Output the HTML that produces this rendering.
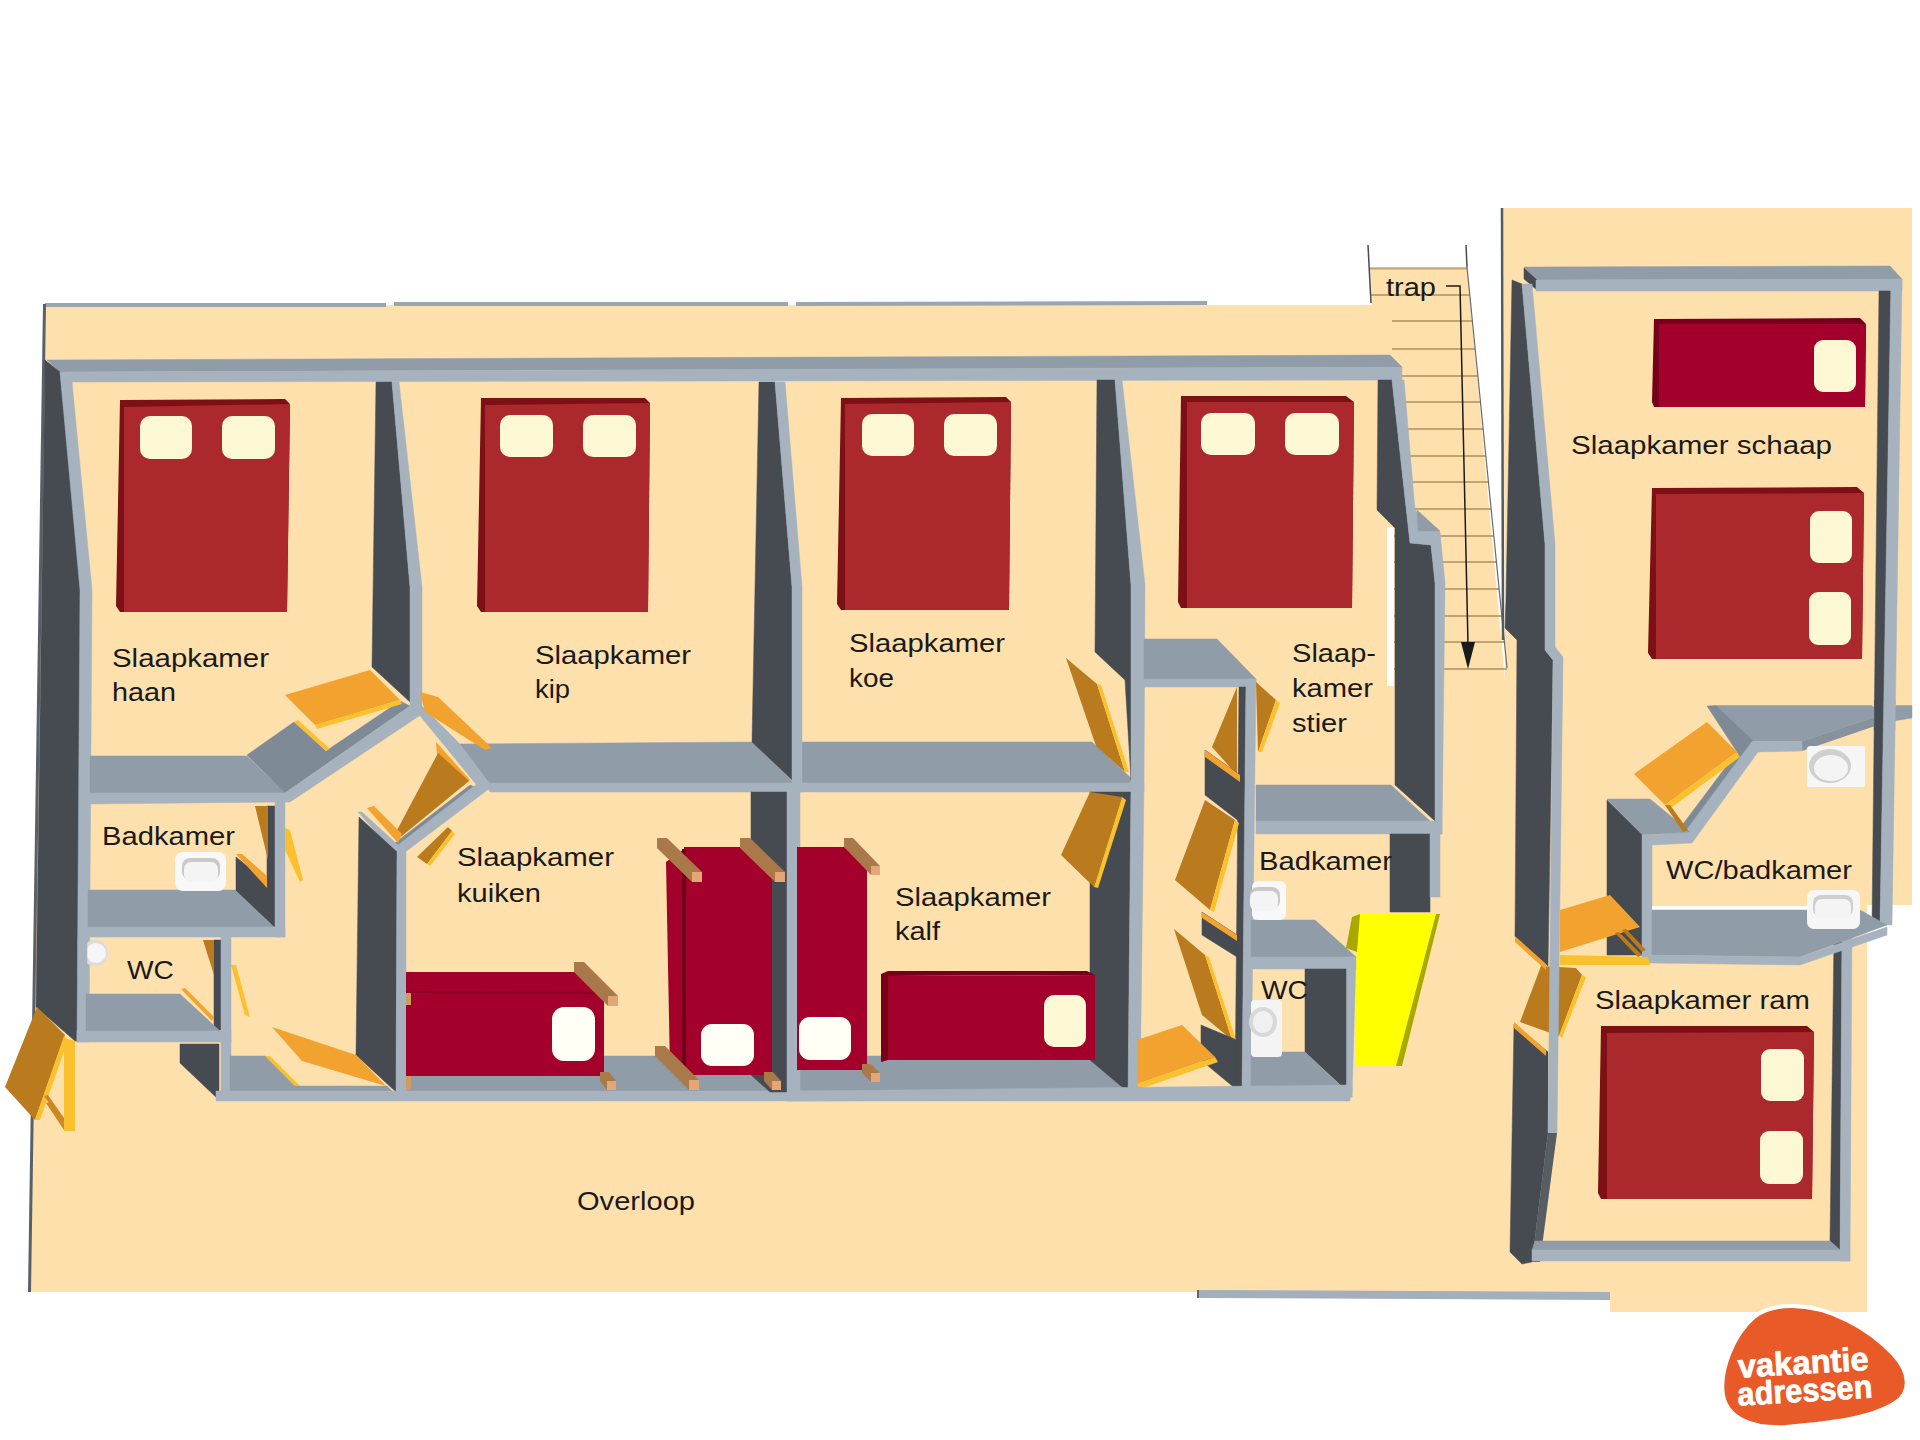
<!DOCTYPE html>
<html><head><meta charset="utf-8">
<style>
html,body{margin:0;padding:0;background:#fff;}
body{width:1920px;height:1440px;overflow:hidden;position:relative;}
svg{position:absolute;left:0;top:0;}
text{font-family:"Liberation Sans",sans-serif;fill:#1a1a1a;}
.f{fill:#FEE0AD}
.d{fill:#464B52;stroke:#464B52;stroke-width:.5}
.m{fill:#909CA8;stroke:#909CA8;stroke-width:.5}
.m2{fill:#7E8A96;stroke:#7E8A96;stroke-width:.5}
.l{fill:#A6B3BF;stroke:#A6B3BF;stroke-width:.5}
.o{fill:#F2A22E}
.o2{fill:#BA7A1E}
.o3{fill:#FBC02E}
.r{fill:#AB282C}
.r2{fill:#7C1015}
.b{fill:#A3002C}
.b2{fill:#76001C}
.p{fill:#FBF8D3}
.w{fill:#FFFFF6}
.wd{fill:#CF9A64}
</style></head>
<body>
<svg width="1920" height="1440" viewBox="0 0 1920 1440">
<rect width="1920" height="1440" fill="#fff"/>
<!-- FLOOR -->
<polygon class="f" points="45,305 1372,305 1370,267 1467,267 1505,680 1503,208 1912,208 1912,905 1867,905 1867,1312 1610,1312 1610,1300 1197,1297 1197,1292 30,1292"/>
<!-- STAIRS -->
<line x1="1370" y1="295" x2="1469.8" y2="295" stroke="#C2A373" stroke-width="2"/>
<line x1="1392" y1="321" x2="1472.4" y2="321" stroke="#C2A373" stroke-width="2"/>
<line x1="1392" y1="349" x2="1475.2" y2="349" stroke="#C2A373" stroke-width="2"/>
<line x1="1392" y1="376" x2="1477.9" y2="376" stroke="#C2A373" stroke-width="2"/>
<line x1="1392" y1="402" x2="1480.5" y2="402" stroke="#C2A373" stroke-width="2"/>
<line x1="1392" y1="429" x2="1483.2" y2="429" stroke="#C2A373" stroke-width="2"/>
<line x1="1392" y1="456" x2="1485.9" y2="456" stroke="#C2A373" stroke-width="2"/>
<line x1="1392" y1="482" x2="1488.4" y2="482" stroke="#C2A373" stroke-width="2"/>
<line x1="1392" y1="509" x2="1491.1" y2="509" stroke="#C2A373" stroke-width="2"/>
<line x1="1392" y1="536" x2="1493.8" y2="536" stroke="#C2A373" stroke-width="2"/>
<line x1="1392" y1="562" x2="1496.4" y2="562" stroke="#C2A373" stroke-width="2"/>
<line x1="1392" y1="589" x2="1499.1" y2="589" stroke="#C2A373" stroke-width="2"/>
<line x1="1392" y1="616" x2="1501.8" y2="616" stroke="#C2A373" stroke-width="2"/>
<line x1="1392" y1="642" x2="1504.4" y2="642" stroke="#C2A373" stroke-width="2"/>
<line x1="1392" y1="669" x2="1507.1" y2="669" stroke="#C2A373" stroke-width="2"/>

<line x1="1370" y1="268.5" x2="1467" y2="268.5" stroke="#C2A373" stroke-width="2"/>
<!-- outer thin lines -->
<polygon fill="#9AA5B0" points="45,303 386,303 386,307 45,307"/>
<polygon fill="#9AA5B0" points="394,302 788,302 788,306 394,306"/>
<polygon fill="#9AA5B0" points="796,302 1207,301 1207,305 796,306"/>
<polygon fill="#5A6068" points="43,304 46,304 31,1292 28,1292"/>
<!-- TOP WALL -->
<g id="topwall">
<polygon class="m" points="47,360 1390,355 1402,367 60,372"/>
<polygon class="l" points="60,372 1402,367 1402,380 72,382"/>
</g>
<!-- LEFT OUTER WALL -->
<polygon class="d" points="45,360 60,372 82,590 80,1041 75,1041 36,1007"/>
<polygon class="l" points="60,372 72,382 92,590 89,1042 77,1042 80,590"/>

<!-- HAAN/KIP WALL 1 upper -->
<polygon class="d" points="376,382 392,382 410,587 410,702 372,667"/>
<polygon class="l" points="392,382 399,382 422,587 422,707 410,707 410,587"/>
<!-- haan bottom wall -->
<polygon class="m" points="90,756 247,756 285,793 90,793"/>
<polygon class="m2" points="247,755 294,722 326,751 400,701 410,706 285,793"/>
<polygon class="o3" points="294,722 298,720 330,749 326,751"/>
<polygon class="l" points="88,793 285,793 410,706 422,707 425,712 290,802 88,804"/>
<!-- haan door -->
<polygon class="o" points="285,695 370,670 400,700 315,725"/>
<polygon class="o3" points="315,725 400,700 402,704 317,729"/>
<!-- kip bottom wall horizontal -->
<polygon class="m" points="457,744 752,742 792,781 792,784 487,784"/>
<polygon class="m" points="800,742 1092,742 1131,778 1131,784 800,784"/>
<polygon class="l" points="485,783 1144,783 1144,792 490,792"/>
<polygon class="l" points="412,706 422,706 460,744 490,784 480,790 475,783"/>
<!-- kuiken top diag wall -->
<polygon class="m2" points="362,815 395,843 470,785 482,790 400,855"/>
<polygon class="l" points="358,812 362,812 398,845 478,783 490,788 400,856 397,856"/>
<!-- kuiken door -->
<polygon class="o" points="436,742 470,780 463,786 437,755"/>
<polygon class="o2" points="438,753 469,781 397,840 395,834"/>
<polygon class="o" points="367,808 374,806 402,834 398,843"/>
<polygon class="o2" points="448,827 452,831 427,864 417,857"/>
<polygon class="o3" points="452,831 455,834 430,866 427,864"/>
<!-- kip door sliver -->
<polygon class="o" points="420,692 438,697 492,748 485,750 425,712"/>
<polygon class="m" points="406,1056 1130,1056 1130,1091 406,1091"/>
<!-- kuiken left dark wall -->
<polygon class="d" points="359,817 397,852 396,1092 356,1055"/>
<polygon class="l" points="397,852 406,852 406,1100 396,1100"/>
<!-- badkamer right wall -->
<polygon class="d" points="236,857 267,882 267,806 275,806 275,928 236,891"/>
<polygon class="l" points="275,800 285,800 285,937 275,937"/>
<polygon class="o2" points="255,806 268,806 268,860"/>
<polygon class="o3" points="285,828 290,830 303,880 300,882 285,850"/>
<polygon class="o" points="236,854 242,854 267,876 267,888"/>
<!-- badkamer bottom wall -->
<polygon class="m" points="88,890 235,890 274,927 88,927"/>
<polygon class="l" points="86,927 285,927 285,937 86,937"/>
<rect fill="#F8F8F8" x="175" y="852" width="51" height="39" rx="8"/><rect fill="#C9C9C9" x="182" y="858" width="38" height="22" rx="8"/><rect fill="#F4F4F4" x="184" y="862" width="34" height="20" rx="7"/>
<!-- WC -->
<polygon class="d" points="214,940 221,940 221,1030 214,1030"/>
<polygon class="l" points="221,937 231,937 231,1100 221,1100"/>
<polygon class="m" points="86,994 180,994 220,1031 86,1031"/>
<polygon class="l" points="77,1031 231,1031 231,1042 77,1042"/>
<polygon class="o" points="181,989 185,988 214,1017 212,1021"/>
<polygon class="o2" points="203,940 214,940 214,975"/>
<polygon class="o3" points="231,965 236,965 250,1017 245,1015"/>
<circle cx="95" cy="953" r="13" fill="#DCDCDC"/><circle cx="96" cy="953" r="10" fill="#F6F6F6"/><rect class="l" x="78" y="937" width="9" height="40"/>
<!-- lower dark block + bottom -->
<polygon class="d" points="180,1044 219,1044 219,1100 180,1063"/>
<polygon class="m" points="230,1056 265,1056 295,1086 387,1086 392,1091 230,1091"/>
<polygon class="l" points="216,1091 1350,1091 1350,1101 216,1101"/>
<polygon class="o" points="272,1027 356,1055 386,1086 302,1061"/>
<polygon class="o3" points="265,1056 270,1056 300,1086 295,1086"/>
<!-- exterior door -->
<polygon class="o2" points="5,1087 37,1007 65,1035 35,1120"/>
<polygon class="o3" points="35,1120 40,1120 68,1040 64,1036"/>
<polygon class="o3" points="64,1038 75,1041 75,1131 64,1131"/>
<polygon fill="#C98A22" points="44,1096 48,1095 64,1118 64,1124"/>
<polygon fill="#C98A22" points="46,1103 50,1102 64,1124 64,1130"/>

<!-- WALL 2 kip/koe -->
<polygon class="d" points="759,382 775,382 792,587 792,780 752,742"/>
<polygon class="l" points="775,382 785,382 802,587 802,792 792,792 792,587"/>
<!-- kuiken/kalf wall -->
<polygon class="d" points="751,792 787,792 787,1092 770,1092 751,1075"/>
<polygon class="l" points="787,792 800,792 800,1101 787,1101"/>
<!-- WALL 3 koe/stier -->
<polygon class="d" points="1097,380 1115,380 1131,585 1131,780 1125,680 1095,652"/>
<polygon class="l" points="1115,380 1122,380 1145,585 1144,784 1131,784 1131,585"/>
<polygon class="d" points="1090,792 1131,792 1128,1092 1090,1060"/>
<polygon class="l" points="1131,784 1144,784 1140,1100 1128,1100"/>
<polygon class="o2" points="1066,658 1097,684 1125,772 1096,746"/>
<polygon class="o3" points="1097,684 1101,685 1129,772 1125,772"/>
<polygon class="o2" points="1090,792 1122,797 1094,887 1061,855"/>
<polygon class="o3" points="1122,797 1126,800 1098,888 1094,887"/>
<!-- corridor -->
<polygon class="m" points="1144,639 1217,639 1256,679 1144,679"/>
<polygon class="l" points="1144,679 1256,679 1256,687 1144,687"/>
<polygon class="d" points="1239,687 1246,687 1242,1095 1235,1095"/>
<polygon class="l" points="1246,679 1256,679 1251,1097 1242,1097"/>
<polygon class="o2" points="1212,747 1237,687 1237,775"/>
<polygon class="d" points="1205,750 1240,775 1240,822 1205,795"/>
<polygon class="o" points="1205,750 1240,775 1240,782 1205,757"/>
<polygon class="o2" points="1205,800 1235,820 1210,910 1175,880"/>
<polygon class="o3" points="1235,820 1239,823 1214,912 1210,910"/>
<polygon class="d" points="1202,912 1237,935 1237,957 1202,935"/>
<polygon class="o" points="1202,912 1237,935 1237,941 1202,918"/>
<polygon class="o2" points="1174,929 1205,955 1232,1040 1202,1015"/>
<polygon class="o3" points="1205,955 1209,957 1236,1040 1232,1040"/>
<polygon class="d" points="1201,1025 1237,1040 1237,1090 1201,1060"/>
<polygon class="o" points="1137,1040 1182,1025 1215,1057 1137,1084"/>
<polygon class="o3" points="1137,1084 1215,1057 1218,1062 1140,1089"/>
<polygon class="o2" points="1256,682 1276,700 1258,752"/>
<polygon class="o3" points="1276,700 1280,703 1262,752 1258,752"/>
<!-- stier bottom wall -->
<polygon class="m" points="1256,785 1391,785 1430,821 1256,821"/>
<polygon class="l" points="1256,821 1442,821 1442,834 1256,834"/>
<!-- stier right wall -->
<polygon fill="#fff" points="1387,527 1394,527 1394,686 1387,686"/>
<polygon class="d" points="1378,380 1392,380 1410,543 1431,545 1435,583 1435,821 1395,785 1395,528 1377,510"/>
<polygon class="l" points="1392,380 1404,380 1415,510 1440,532 1445,583 1442,834 1435,834 1435,583 1431,545 1410,543"/>
<polygon class="m" points="1417,510 1440,531 1418,531"/>
<!-- badkamer/WC stier side -->
<polygon class="d" points="1390,834 1430,834 1430,912 1390,912"/>
<polygon class="l" points="1430,834 1440,834 1440,897 1430,897"/>
<polygon class="m" points="1251,920 1315,920 1356,957 1251,957"/>
<polygon class="l" points="1251,957 1356,957 1356,969 1251,969"/>
<polygon class="l" points="1346,957 1356,957 1352,1097 1342,1097"/>
<polygon class="d" points="1305,969 1346,969 1346,1090 1305,1052"/>
<polygon class="m" points="1251,1052 1305,1052 1345,1090 1251,1090"/>
<polygon class="l" points="800,1091 1352,1085 1352,1097 800,1101"/>
<rect fill="#F8F8F8" x="1252" y="881" width="34" height="39" rx="6"/><rect fill="#C9C9C9" x="1250" y="887" width="30" height="22" rx="8"/><rect fill="#F4F4F4" x="1250" y="891" width="28" height="20" rx="7"/>
<rect fill="#F4F4F4" x="1251" y="1000" width="31" height="57" rx="4"/>
<ellipse cx="1263" cy="1022" rx="14" ry="15" fill="#D8D8D8"/>
<ellipse cx="1263" cy="1022" rx="10" ry="11" fill="#F0F0F0"/>
<!-- yellow -->
<polygon fill="#FFFF00" points="1357,914 1440,914 1399,1066 1355,1066"/>
<polygon fill="#A8A800" points="1352,917 1360,914 1357,952 1346,948"/>
<polygon fill="#A8A800" points="1436,914 1440,914 1402,1066 1396,1066"/>

<!-- BEDS double -->
<g id="beds">
<polygon class="r2" points="120,400 285,399 290,404 287,612 120,612 116,606"/>
<polygon class="r" points="124,407 290,404 287,612 124,612"/>
<rect class="p" x="140" y="416" width="52" height="43" rx="10"/>
<rect class="p" x="222" y="416" width="53" height="43" rx="10"/>
<polygon class="r2" points="481,398 645,398 650,403 648,612 481,612 477,606"/>
<polygon class="r" points="485,405 650,403 648,612 485,612"/>
<rect class="p" x="500" y="415" width="53" height="42" rx="10"/>
<rect class="p" x="583" y="415" width="53" height="42" rx="10"/>
<polygon class="r2" points="841,398 1006,397 1011,402 1009,610 841,610 837,604"/>
<polygon class="r" points="845,404 1011,402 1009,610 845,610"/>
<rect class="p" x="862" y="414" width="52" height="42" rx="10"/>
<rect class="p" x="944" y="414" width="53" height="42" rx="10"/>
<polygon class="r2" points="1181,396 1346,396 1354,402 1352,608 1181,608 1178,602"/>
<polygon class="r" points="1187,402 1354,402 1352,608 1187,608"/>
<rect class="p" x="1201" y="413" width="54" height="42" rx="10"/>
<rect class="p" x="1285" y="413" width="54" height="42" rx="10"/>
<polygon class="r2" points="1652,488 1857,487 1864,493 1862,659 1652,659 1648,653"/>
<polygon class="r" points="1656,494 1864,493 1862,659 1656,659"/>
<rect class="p" x="1810" y="511" width="42" height="52" rx="9"/>
<rect class="p" x="1809" y="592" width="42" height="53" rx="9"/>
<polygon class="r2" points="1601,1026 1807,1026 1814,1032 1812,1199 1601,1199 1598,1193"/>
<polygon class="r" points="1607,1033 1814,1032 1812,1199 1607,1199"/>
<rect class="p" x="1761" y="1049" width="43" height="52" rx="9"/>
<rect class="p" x="1760" y="1131" width="43" height="53" rx="9"/>
<!-- bunk schaap -->
<polygon class="b2" points="1654,319 1860,318 1866,324 1865,407 1654,407 1652,402"/>
<polygon class="b" points="1659,324 1866,324 1865,407 1659,407"/>
<rect class="p" x="1814" y="340" width="42" height="52" rx="9"/>
</g>
<!-- bunk beds kuiken / kalf -->
<g id="bunks">
<polygon class="b" points="406,972 587,972 604,992 604,1076 406,1076"/>
<polygon class="b2" points="406,991 604,992 604,994 406,993" opacity="0.5"/>
<rect class="w" x="552" y="1007" width="43" height="54" rx="12"/>
<rect class="wd" x="406" y="993" width="5" height="12"/>
<rect class="wd" x="406" y="1076" width="5" height="14"/>
<polygon class="b" points="666,862 684,849 684,1062 670,1070"/>
<polygon class="b" points="684,847 748,847 772,860 772,1075 684,1075"/>
<polygon fill="#6E001A" points="682,849 686,849 686,1075 682,1075"/>
<rect class="w" x="701" y="1024" width="53" height="42" rx="11"/>
<polygon class="b" points="797,847 860,847 867,857 867,1070 797,1070"/>
<rect class="w" x="799" y="1017" width="52" height="43" rx="11"/>
<polygon class="b2" points="881,974 888,971 1087,971 1095,975 888,976 888,1060 881,1062"/>
<polygon class="b" points="888,976 1095,975 1095,1060 888,1060"/>
<rect class="p" x="1044" y="995" width="42" height="52" rx="10"/>
<polygon fill="#A9794A" points="574,962 584,962 618,996 618,1006 608,1006 574,972"/><rect fill="#E4A676" x="608" y="996" width="10" height="10"/>
<polygon fill="#A9794A" points="600,1072 609,1072 616,1081 616,1090 607,1090 600,1081"/><rect fill="#E4A676" x="607" y="1081" width="9" height="9"/>
<polygon fill="#A9794A" points="657,838 667,838 702,872 702,882 692,882 657,848"/><rect fill="#E4A676" x="692" y="872" width="10" height="10"/>
<polygon fill="#A9794A" points="740,838 750,838 785,872 785,882 775,882 740,848"/><rect fill="#E4A676" x="775" y="872" width="10" height="10"/>
<polygon fill="#A9794A" points="655,1046 665,1046 699,1080 699,1090 689,1090 655,1056"/><rect fill="#E4A676" x="689" y="1080" width="10" height="10"/>
<polygon fill="#A9794A" points="764,1072 773,1072 781,1081 781,1090 772,1090 764,1081"/><rect fill="#E4A676" x="772" y="1081" width="9" height="9"/>
<polygon fill="#A9794A" points="844,838 853,838 880,866 880,875 871,875 844,847"/><rect fill="#E4A676" x="871" y="866" width="9" height="9"/>
<polygon fill="#A9794A" points="862,1064 871,1064 880,1073 880,1082 871,1082 862,1073"/><rect fill="#E4A676" x="871" y="1073" width="9" height="9"/>
</g>

<line x1="1368" y1="245" x2="1371" y2="303" stroke="#4A4A4A" stroke-width="1.5"/>
<line x1="1466" y1="245" x2="1467" y2="267" stroke="#4A4A4A" stroke-width="1.5"/>
<line x1="1467" y1="267" x2="1507" y2="668" stroke="#6A6A6A" stroke-width="1.2"/>
<polyline points="1446,286 1460,286 1468,644" fill="none" stroke="#1A1A1A" stroke-width="1.5"/>
<polygon fill="#1A1A1A" points="1461,642 1475,642 1468,669"/>
<line x1="1502" y1="208" x2="1503" y2="640" stroke="#555A60" stroke-width="2.5"/>
<!-- RIGHT BUILDING -->
<polygon class="m" points="1524,267 1890,266 1902,279 1536,280"/>
<polygon class="d" points="1524,268 1537,280 1537,290 1524,279"/>
<polygon class="l" points="1536,280 1902,279 1902,291 1536,291"/>
<polygon class="d" points="1879,291 1891,291 1880,925 1872,925"/>
<polygon class="l" points="1891,279 1902,279 1892,925 1880,925"/>
<polygon class="d" points="1512,280 1522,284 1545,544 1545,650 1553,660 1548,966 1515,937 1517,640 1505,628 1506,600"/>
<polygon class="d" points="1514,1024 1548,1052 1548,1133 1532,1262 1522,1264 1510,1252"/>
<polygon class="o2" points="1541,966 1576,968 1582,975 1559,1036 1520,1022"/>
<polygon class="o3" points="1582,975 1586,977 1562,1038 1559,1036"/>
<polygon class="o" points="1515,936 1546,964 1546,970 1515,942"/>
<polygon class="o" points="1514,1022 1546,1050 1546,1056 1514,1028"/>
<polygon class="l" points="1522,284 1532,284 1555,544 1555,647 1563,657 1557,1133 1548,1133 1553,660 1545,650 1545,544"/>
<polygon fill="#575D65" points="1548,1133 1557,1133 1540,1262 1532,1262"/>
<!-- ram walls -->
<polygon class="d" points="1834,937 1842,937 1840,1250 1830,1241"/>
<polygon class="l" points="1842,930 1852,930 1850,1261 1840,1261"/>
<polygon class="m" points="1535,1241 1830,1241 1840,1250 1532,1250"/>
<polygon class="l" points="1532,1250 1850,1250 1850,1261 1532,1261"/>
<!-- WC/badkamer right -->
<polygon class="m" points="1716,705.5 1872,705.5 1881,715 1802,741.5 1752,741.5"/>
<polygon class="m" points="1893,705.5 1912,705.5 1912,718 1893,721"/>
<polygon class="m2" points="1707,706 1716,705.5 1753,741 1690,832 1680,828 1737,752"/>
<polygon fill="#86929E" points="1802,741.5 1881,715 1881,724 1802,751"/>
<polygon class="l" points="1752,741.5 1802,741.5 1802,751 1758,752 1692,843 1652,845 1652,835 1685,832"/>
<polygon class="d" points="1874.6,700 1883.8,700 1883.3,730 1874.3,730"/>
<polygon class="l" points="1883.8,700 1895.5,700 1895,730 1883.3,730"/>
<polygon class="m" points="1607,799 1650,799 1690,832 1642,835"/>
<polygon class="d" points="1607,800 1642,835 1642,955 1607,955"/>
<polygon class="l" points="1642,835 1652,835 1652,963 1642,963"/>
<polygon fill="#fff" points="1652,906 1860,906 1860,911 1652,911"/>
<polygon class="m" points="1652,910 1860,910 1887,925 1800,957 1652,955"/>
<polygon class="l" points="1652,955 1800,957 1887,927 1887,935 1800,965 1652,963"/>
<rect fill="#F6F6F6" x="1807" y="746" width="58" height="41" rx="3"/>
<ellipse cx="1830" cy="766" rx="21" ry="17" fill="#D0D0D0"/>
<ellipse cx="1831" cy="768" rx="17" ry="13" fill="#F4F4F4"/>
<rect fill="#F6F6F6" x="1807" y="890" width="53" height="39" rx="7"/>
<rect fill="#CFCFCF" x="1813" y="895" width="40" height="22" rx="8"/>
<rect fill="#F4F4F4" x="1815" y="899" width="36" height="20" rx="7"/>
<!-- right doors -->
<polygon class="o" points="1634,774 1707,722 1737,752 1665,805"/>
<polygon class="o3" points="1665,805 1737,752 1740,757 1668,810"/>
<polygon class="o2" points="1665,805 1670,805 1688,830 1683,832"/>
<polygon class="o" points="1560,910 1610,895 1640,927 1560,952"/>
<polygon class="o3" points="1560,955 1648,957 1650,965 1560,965"/>
<polygon class="o2" points="1615,933 1619,932 1642,955 1638,957"/>
<polygon class="o2" points="1622,930 1626,929 1646,950 1642,952"/>
<!-- bottom gray line -->
<polygon fill="#A3B0BC" points="1197,1290 1610,1292 1610,1300 1197,1298"/>
<polygon fill="#5F666E" points="1197,1290 1199,1290 1199,1298 1197,1298"/>
<!-- TEXT -->
<g font-size="25">
<text x="112" y="667" textLength="157" lengthAdjust="spacingAndGlyphs">Slaapkamer</text>
<text x="112" y="701" textLength="64" lengthAdjust="spacingAndGlyphs">haan</text>
<text x="535" y="664" textLength="156" lengthAdjust="spacingAndGlyphs">Slaapkamer</text>
<text x="535" y="698" textLength="35" lengthAdjust="spacingAndGlyphs">kip</text>
<text x="849" y="652" textLength="156" lengthAdjust="spacingAndGlyphs">Slaapkamer</text>
<text x="849" y="687" textLength="45" lengthAdjust="spacingAndGlyphs">koe</text>
<text x="1292" y="662" textLength="84" lengthAdjust="spacingAndGlyphs">Slaap-</text>
<text x="1292" y="697" textLength="81" lengthAdjust="spacingAndGlyphs">kamer</text>
<text x="1292" y="732" textLength="55" lengthAdjust="spacingAndGlyphs">stier</text>
<text x="457" y="866" textLength="157" lengthAdjust="spacingAndGlyphs">Slaapkamer</text>
<text x="457" y="902" textLength="84" lengthAdjust="spacingAndGlyphs">kuiken</text>
<text x="895" y="906" textLength="156" lengthAdjust="spacingAndGlyphs">Slaapkamer</text>
<text x="895" y="940" textLength="45" lengthAdjust="spacingAndGlyphs">kalf</text>
<text x="102" y="845" textLength="133" lengthAdjust="spacingAndGlyphs">Badkamer</text>
<text x="127" y="979" textLength="47" lengthAdjust="spacingAndGlyphs">WC</text>
<text x="1259" y="870" textLength="133" lengthAdjust="spacingAndGlyphs">Badkamer</text>
<text x="1261" y="999" textLength="47" lengthAdjust="spacingAndGlyphs">WC</text>
<text x="1571" y="454" textLength="261" lengthAdjust="spacingAndGlyphs">Slaapkamer schaap</text>
<text x="1666" y="879" textLength="186" lengthAdjust="spacingAndGlyphs">WC/badkamer</text>
<text x="1595" y="1009" textLength="215" lengthAdjust="spacingAndGlyphs">Slaapkamer ram</text>
<text x="577" y="1210" textLength="118" lengthAdjust="spacingAndGlyphs">Overloop</text>
<text x="1386" y="296" textLength="50" lengthAdjust="spacingAndGlyphs">trap</text>
</g>
<!-- LOGO -->
<path d="M1792,1306 C1830,1306 1870,1329 1893,1354 C1911,1373 1911,1393 1895,1403 C1870,1419 1830,1423 1786,1427 C1750,1429 1727,1417 1723,1395 C1719,1370 1734,1334 1754,1317 C1764,1309 1778,1306 1792,1306 Z" fill="#E85B29" stroke="#fff" stroke-width="4"/>
<g transform="rotate(-3.4 1800 1385)">
<text x="1739" y="1374" font-size="33" font-weight="bold" textLength="131" lengthAdjust="spacingAndGlyphs" style="fill:#fff;stroke:#fff;stroke-width:0.7">vakantie</text>
<text x="1737" y="1402" font-size="33" font-weight="bold" textLength="135" lengthAdjust="spacingAndGlyphs" style="fill:#fff;stroke:#fff;stroke-width:0.7">adressen</text>
</g>
</svg>
</body></html>
